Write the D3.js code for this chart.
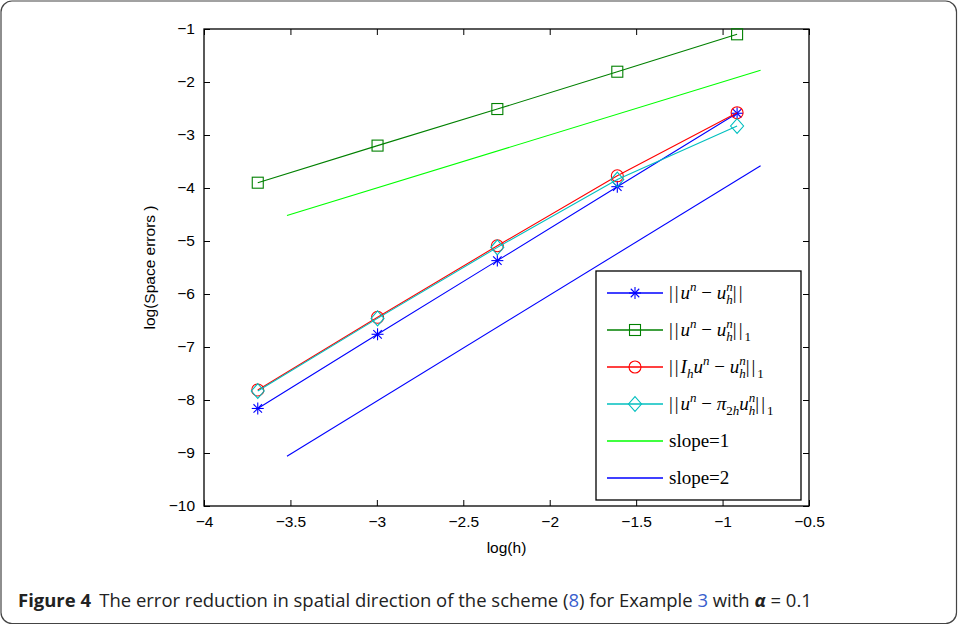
<!DOCTYPE html>
<html>
<head>
<meta charset="utf-8">
<script src="https://cdn.jsdelivr.net/npm/d3@7"></script>
<style>
  body { margin: 0; background: #fff; }
  svg { display: block; }
  text { white-space: pre; }
</style>
</head>
<body>
<div id="chart"></div>
<script>
// data (natural log of h and of the errors)
var logH = [-3.689, -2.996, -2.303, -1.609, -0.916];
var errL2 = [-8.16, -6.76, -5.37, -3.975, -2.59];      // ||u^n - u_h^n||
var errH1 = [-3.90, -3.20, -2.51, -1.806, -1.10];      // ||u^n - u_h^n||_1
var errIh = [-7.81, -6.44, -5.09, -3.77, -2.58];       // ||I_h u^n - u_h^n||_1
var errPi = [-7.83, -6.46, -5.12, -3.84, -2.83];       // ||u^n - pi_2h u_h^n||_1
var slopeX = [-3.52, -0.78];
var slope1Y = [-4.52, -1.78];
var slope2Y = [-9.06, -3.58];
var xTicks = [-4, -3.5, -3, -2.5, -2, -1.5, -1, -0.5];
var yTicks = [-10, -9, -8, -7, -6, -5, -4, -3, -2, -1];

var W = 958, H = 625;
var margin = { top: 29, right: 149, bottom: 119, left: 204 },
    width = W - margin.left - margin.right,
    height = H - margin.top - margin.bottom;

var svg = d3.select("#chart")
    .append("svg")
    .attr("width", W)
    .attr("height", H);

// figure frame
svg.append("rect")
    .attr("x", 1).attr("y", 1)
    .attr("width", W - 2.5).attr("height", H - 2.5)
    .attr("rx", 11).attr("ry", 11)
    .attr("fill", "none")
    .attr("stroke", "#444")
    .attr("stroke-width", 1.2);

var g = svg.append("g")
    .attr("transform", "translate(" + margin.left + "," + margin.top + ")");

var x = d3.scaleLinear().domain([-4, -0.5]).range([0, width]);
var y = d3.scaleLinear().domain([-10, -1]).range([height, 0]);

var tickFmt = function (d) { return String(d).replace("-", "\u2212"); };

// axes, MATLAB style: ticks pointing inward on all four sides
g.append("g")
    .attr("transform", "translate(0," + height + ")")
    .call(d3.axisBottom(x).tickValues(xTicks).tickSizeInner(-6).tickSizeOuter(0).tickPadding(10).tickFormat(tickFmt))
    .call(function (a) { a.select(".domain").remove(); });
g.append("g")
    .call(d3.axisTop(x).tickValues(xTicks).tickSizeInner(-6).tickSizeOuter(0).tickFormat(""))
    .call(function (a) { a.select(".domain").remove(); });
g.append("g")
    .call(d3.axisLeft(y).tickValues(yTicks).tickSizeInner(-6).tickSizeOuter(0).tickPadding(9).tickFormat(tickFmt))
    .call(function (a) { a.select(".domain").remove(); });
g.append("g")
    .attr("transform", "translate(" + width + ",0)")
    .call(d3.axisRight(y).tickValues(yTicks).tickSizeInner(-6).tickSizeOuter(0).tickFormat(""))
    .call(function (a) { a.select(".domain").remove(); });

g.selectAll(".tick line").attr("stroke", "#000").attr("stroke-width", 1);
g.selectAll(".tick text")
    .style("font-family", "'Liberation Sans', Arial, sans-serif")
    .style("font-size", "15.5px")
    .attr("fill", "#000");

g.append("rect")
    .attr("width", width).attr("height", height)
    .attr("fill", "none")
    .attr("stroke", "#000")
    .attr("stroke-width", 1.3);

// axis titles
svg.append("text")
    .attr("x", margin.left + x(-2.25))
    .attr("y", 553)
    .attr("text-anchor", "middle")
    .style("font-family", "'Liberation Sans', Arial, sans-serif")
    .style("font-size", "15.5px")
    .text("log(h)");

svg.append("text")
    .attr("transform", "translate(155," + (margin.top + y(-5.5)) + ") rotate(-90)")
    .attr("text-anchor", "middle")
    .style("font-family", "'Liberation Sans', Arial, sans-serif")
    .style("font-size", "15.5px")
    .text("log(Space errors )");

// markers
function star(sel, cx, cy, r, color) {
    [0, 45, 90, 135].forEach(function (a) {
        var t = a * Math.PI / 180;
        sel.append("line")
            .attr("x1", cx - r * Math.cos(t)).attr("y1", cy - r * Math.sin(t))
            .attr("x2", cx + r * Math.cos(t)).attr("y2", cy + r * Math.sin(t))
            .attr("stroke", color).attr("stroke-width", 1.1);
    });
}
function square(sel, cx, cy, r, color) {
    sel.append("rect").attr("x", cx - r).attr("y", cy - r)
        .attr("width", 2 * r).attr("height", 2 * r)
        .attr("fill", "none").attr("stroke", color).attr("stroke-width", 1.1);
}
function circle(sel, cx, cy, r, color) {
    sel.append("circle").attr("cx", cx).attr("cy", cy).attr("r", r)
        .attr("fill", "none").attr("stroke", color).attr("stroke-width", 1.1);
}
function diamond(sel, cx, cy, r, color) {
    sel.append("path")
        .attr("d", "M" + cx + "," + (cy - r * 1.15) + "L" + (cx + r) + "," + cy + "L" + cx + "," + (cy + r * 1.15) + "L" + (cx - r) + "," + cy + "Z")
        .attr("fill", "none").attr("stroke", color).attr("stroke-width", 1.1);
}

var series = [
    { vals: errL2, color: "#0000ff", mark: star, r: 6 },
    { vals: errH1, color: "#008000", mark: square, r: 5.5 },
    { vals: errIh, color: "#ff0000", mark: circle, r: 6 },
    { vals: errPi, color: "#00bfbf", mark: diamond, r: 6.5 }
];

var line = d3.line()
    .x(function (d) { return x(d[0]); })
    .y(function (d) { return y(d[1]); });

// slope reference lines
g.append("path")
    .datum(d3.zip(slopeX, slope1Y))
    .attr("d", line)
    .attr("fill", "none").attr("stroke", "#00ff00").attr("stroke-width", 1.1);
g.append("path")
    .datum(d3.zip(slopeX, slope2Y))
    .attr("d", line)
    .attr("fill", "none").attr("stroke", "#0000ff").attr("stroke-width", 1.1);

series.forEach(function (s) {
    var pts = d3.zip(logH, s.vals);
    g.append("path")
        .datum(pts)
        .attr("d", line)
        .attr("fill", "none").attr("stroke", s.color).attr("stroke-width", 1.1);
    var mg = g.append("g");
    pts.forEach(function (p) { s.mark(mg, x(p[0]), y(p[1]), s.r, s.color); });
});

// legend
var lg = svg.append("g");
lg.append("rect")
    .attr("x", 596).attr("y", 271)
    .attr("width", 205).attr("height", 229)
    .attr("fill", "#fff").attr("stroke", "#000").attr("stroke-width", 1.3);

// math label as one text element, tspans placed one after another
// part = [text, italic, shift, size, stackOnPrev]
function mathText(sel, x0, y0, parts) {
    var t = sel.append("text")
        .attr("x", x0).attr("y", y0)
        .style("font-family", "'Liberation Serif', 'DejaVu Serif', serif")
        .style("font-size", "19px")
        .attr("fill", "#000");
    var prevStart = x0, maxEnd = x0;
    parts.forEach(function (p) {
        var start = p[4] ? prevStart : maxEnd;
        var ts = t.append("tspan")
            .attr("x", start).attr("y", y0 + (p[2] || 0))
            .style("font-size", (p[3] || 19) + "px")
            .style("font-style", p[1] ? "italic" : "normal")
            .style("letter-spacing", p[0] === "||" ? "2px" : null)
            .text(p[0]);
        var w = ts.node().getComputedTextLength();
        prevStart = start;
        maxEnd = p[4] ? Math.max(maxEnd, start + w) : start + w;
    });
}

var sup = -8, sub = 5, ss = 13;
var nrm = "||", minus = " \u2212 ";
var legendItems = [
    { color: "#0000ff", mark: star, r: 6, parts: [[nrm], ["u", 1], ["n", 1, sup, ss], [minus], ["u", 1], ["n", 1, sup, ss], ["h", 1, sub, ss, 1], [nrm]] },
    { color: "#008000", mark: square, r: 5.5, parts: [[nrm], ["u", 1], ["n", 1, sup, ss], [minus], ["u", 1], ["n", 1, sup, ss], ["h", 1, sub, ss, 1], [nrm], ["1", 0, sub, ss]] },
    { color: "#ff0000", mark: circle, r: 6, parts: [[nrm], ["I", 1], ["h", 1, sub, ss], ["u", 1], ["n", 1, sup, ss], [minus], ["u", 1], ["n", 1, sup, ss], ["h", 1, sub, ss, 1], [nrm], ["1", 0, sub, ss]] },
    { color: "#00bfbf", mark: diamond, r: 6.5, parts: [[nrm], ["u", 1], ["n", 1, sup, ss], [minus], ["\u03c0", 1], ["2", 0, sub, ss], ["h", 1, sub, ss], ["u", 1], ["n", 1, sup, ss], ["h", 1, sub, ss, 1], [nrm], ["1", 0, sub, ss]] },
    { color: "#00ff00", mark: null, parts: [["slope=1"]] },
    { color: "#0000ff", mark: null, parts: [["slope=2"]] }
];
var legendY = [293, 330, 367, 404, 441, 478];

legendItems.forEach(function (item, i) {
    var ly = legendY[i];
    lg.append("line")
        .attr("x1", 607).attr("x2", 663)
        .attr("y1", ly).attr("y2", ly)
        .attr("stroke", item.color).attr("stroke-width", 1.5);
    if (item.mark) item.mark(lg, 635, ly, item.r, item.color);
    mathText(lg, 669, ly + 6, item.parts);
});

// caption
var cap = svg.append("text")
    .attr("x", 18).attr("y", 607)
    .style("font-family", "'Open Sans', 'Noto Sans', sans-serif")
    .style("font-size", "18px")
    .attr("fill", "#222");
cap.append("tspan").style("font-weight", "bold").text("Figure 4");
cap.append("tspan").attr("dx", 8).text("The error reduction in spatial direction of the scheme (");
cap.append("tspan").attr("fill", "#3a5fcd").text("8");
cap.append("tspan").text(") for Example ");
cap.append("tspan").attr("fill", "#3a5fcd").text("3");
cap.append("tspan").text(" with ");
cap.append("tspan").style("font-weight", "bold").style("font-style", "italic").text("\u03b1");
cap.append("tspan").text(" = 0.1");
var cw = cap.node().getComputedTextLength();
var k = (804 - 18) / cw;
cap.attr("transform", "translate(18,0) scale(" + k + ",1) translate(-18,0)");
</script>
</body>
</html>
